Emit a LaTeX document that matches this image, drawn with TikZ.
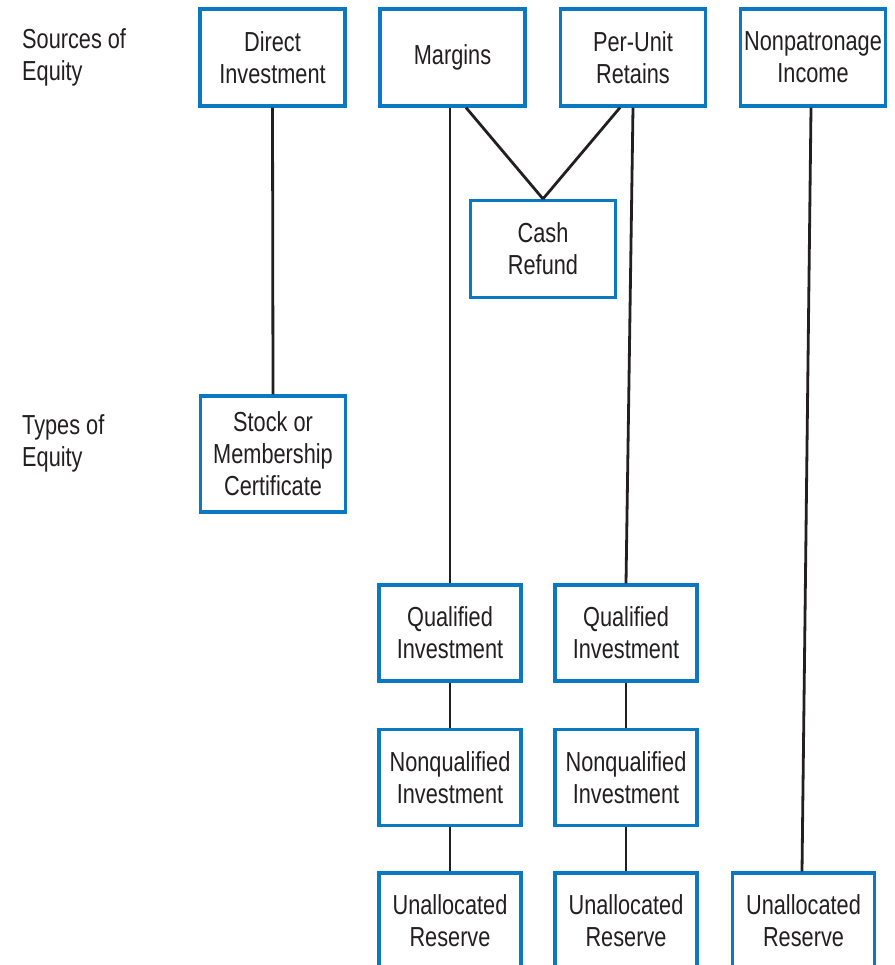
\documentclass[tikz,border=0pt]{standalone}
\usepackage{fontspec}
\setmainfont{Liberation Sans}[FakeStretch=0.79]
\definecolor{boxblue}{RGB}{10,120,194}
\definecolor{ink}{RGB}{35,31,32}
\begin{document}
\begin{tikzpicture}[x=1pt,y=-1pt,
  box/.style={draw=boxblue,line width=3.2pt,fill=white,text=ink,align=center,
    minimum width=145pt,minimum height=97pt,inner sep=0pt,
    font=\fontsize{27.5}{32}\selectfont},
  nbox/.style={box,minimum width=142pt,minimum height=96pt},
  lab/.style={text=ink,align=left,anchor=west,inner sep=0pt,font=\fontsize{27.5}{32}\selectfont},
  conn/.style={draw=ink,line width=2.8pt}]
\useasboundingbox (0,0) rectangle (894,965);
\clip (0,0) rectangle (894,965);
\node[box] (D) at (272.5,57.5) {Direct\\Investment};
\node[box] (M) at (452.5,57.5) {Margins};
\node[box] (P) at (633,57.5) {Per-Unit\\Retains};
\node[box] (N) at (813,57.5) {Nonpatronage\\Income};
\node[box] (C) at (543,249) {Cash\\Refund};
\node[box,minimum height=116pt] (S) at (273,454) {Stock or\\Membership\\Certificate};
\node[nbox] (Q1) at (450,633) {Qualified\\Investment};
\node[nbox] (Q2) at (626,633) {Qualified\\Investment};
\node[nbox] (N1) at (450,777.5) {Nonqualified\\Investment};
\node[nbox] (N2) at (626,777.5) {Nonqualified\\Investment};
\node[nbox] (U1) at (450,921) {Unallocated\\Reserve};
\node[nbox] (U2) at (626,921) {Unallocated\\Reserve};
\node[nbox] (U3) at (803.5,921) {Unallocated\\Reserve};
\node[lab] (src) at (22,57.5) {Sources of\\Equity};
\node[lab] (typ) at (22,443) {Types of\\Equity};
\draw[conn] (D.south) -- (S.north);
\draw[conn] ([xshift=-2.5pt]M.south) -- (Q1.north);
\draw[conn] ([xshift=13.5pt]M.south) -- (C.north);
\draw[conn] ([xshift=-13pt]P.south) -- (C.north);
\draw[conn] (P.south) -- (Q2.north);
\draw[conn] ([xshift=-2pt]N.south) -- ([xshift=-1.5pt]U3.north);
\draw[conn] (Q1.south) -- (N1.north);
\draw[conn] (N1.south) -- (U1.north);
\draw[conn] (Q2.south) -- (N2.north);
\draw[conn] (N2.south) -- (U2.north);
\end{tikzpicture}
\end{document}
